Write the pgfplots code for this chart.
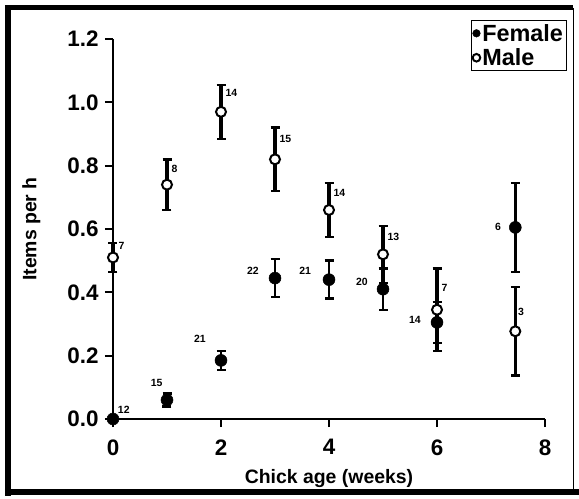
\documentclass[border=0pt]{standalone}
\usepackage{pgfplots}
\pgfplotsset{compat=1.18}
\usepackage{fontspec}
\setmainfont{Liberation Sans}
\begin{document}
\begin{tikzpicture}[x=1bp,y=1bp]
\begin{axis}[
  at={(0,0)}, anchor=south west,
  scale only axis, width=432bp, height=380bp,
  xmin=0, xmax=8, ymin=0, ymax=1.2,
  axis x line=bottom, axis y line=left,
  axis line style={-, line width=2bp},
  tick align=outside, major tick length=8bp,
  tick style={line width=2bp, black},
  xtick={0,2,4,6,8}, ytick={0,0.2,0.4,0.6,0.8,1.0,1.2},
  yticklabel style={/pgf/number format/fixed, /pgf/number format/fixed zerofill, /pgf/number format/precision=1, xshift=-3bp},
  xticklabel style={yshift=-9bp},
  /pgf/number format/assume math mode=true,
  ticklabel style={font=\bfseries\fontsize{22.5}{24}\selectfont},
  xlabel={Chick age (weeks)}, ylabel={Items per h},
  label style={font=\bfseries\fontsize{19.5}{22}\selectfont},
  xlabel style={yshift=-7bp},
  ylabel style={yshift=20bp},
  clip=false,
  legend style={at={(1.051,1.05)}, anchor=north east, draw=black, line width=1.2bp,
    font=\bfseries\fontsize{23.5}{26}\selectfont, inner sep=1.5bp, row sep=2bp,
    legend cell align=left},
  legend image post style={mark size=3.8bp},
  legend image code/.code={\draw[#1] plot coordinates {(0.02cm,0cm)};},
  error bars/error mark=-,
  error bars/error mark options={rotate=90, mark size=4.5bp, line width=2.4bp, draw=black, solid},
]
\addplot[draw=black, only marks, mark=*, mark size=6bp, mark options={draw=black, fill=black, line width=0.5bp},
  error bars/.cd, y dir=both, y explicit, error bar style={line width=2.4bp, draw=black}]
  coordinates {
  (0,0) +- (0,0)
  (1,0.06) +- (0,0.02)
  (2,0.185) +- (0,0.03)
  (3,0.445) +- (0,0.06)
  (4,0.44) +- (0,0.06)
  (5,0.41) +- (0,0.065)
  (6,0.305) +- (0,0.065)
  (7.45,0.605) +- (0,0.14)
  };
\addlegendentry{Female}
\addplot[draw=black, only marks, mark=*, mark size=5bp, mark options={draw=black, fill=white, line width=2bp},
  error bars/.cd, y dir=both, y explicit, error bar style={line width=3.4bp, draw=black}]
  coordinates {
  (0,0.51) +- (0,0.045)
  (1,0.74) +- (0,0.08)
  (2,0.97) +- (0,0.085)
  (3,0.82) +- (0,0.10)
  (4,0.66) +- (0,0.085)
  (5,0.52) +- (0,0.09)
  (6,0.345) +- (0,0.13)
  (7.45,0.277) +- (0,0.14)
  };
\addlegendentry{Male}
\begin{scope}[every node/.style={font=\bfseries\fontsize{10.5}{12}\selectfont, inner sep=0pt}]
\node[anchor=west] at (axis cs:0.1,0.546) {7};
\node[anchor=west] at (axis cs:1.08,0.79) {8};
\node[anchor=west] at (axis cs:2.08,1.03) {14};
\node[anchor=west] at (axis cs:3.08,0.884) {15};
\node[anchor=west] at (axis cs:4.08,0.714) {14};
\node[anchor=west] at (axis cs:5.08,0.575) {13};
\node[anchor=west] at (axis cs:6.08,0.414) {7};
\node[anchor=west] at (axis cs:7.5,0.338) {3};
\node at (axis cs:0.2,0.03) {12};
\node at (axis cs:0.81,0.113) {15};
\node at (axis cs:1.61,0.253) {21};
\node at (axis cs:2.59,0.467) {22};
\node at (axis cs:3.56,0.467) {21};
\node at (axis cs:4.61,0.432) {20};
\node at (axis cs:5.59,0.313) {14};
\node at (axis cs:7.13,0.606) {6};
\end{scope}
\end{axis}
\draw[line width=6bp] (-105,-77) -- (-105,413);
\draw[line width=5bp] (-108,411) -- (460,411);
\draw[line width=6bp] (-108,-73) -- (466,-73);
\draw[line width=1bp] (460,411) -- (460,-73);
\pgfresetboundingbox
\useasboundingbox (-113,-80) rectangle (466,419);
\end{tikzpicture}
\end{document}
